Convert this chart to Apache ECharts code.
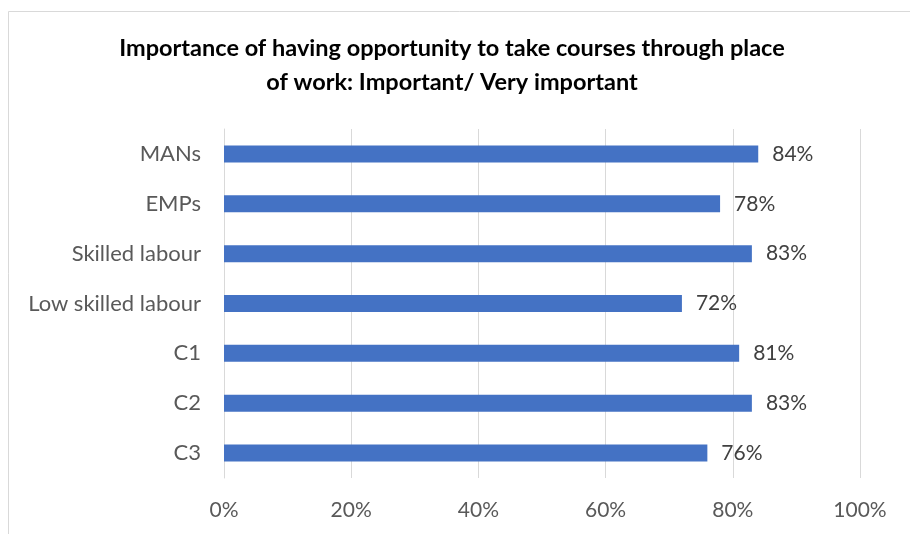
<!DOCTYPE html>
<html>
<head>
<meta charset="utf-8">
<script src="https://cdn.jsdelivr.net/npm/echarts@6/dist/echarts.min.js"></script>
<style>
  html, body { margin: 0; padding: 0; background: #fff; }
  #chart { width: 910px; height: 534px; }
</style>
</head>
<body>
<div id="chart"></div>
<script>
// Survey groups, listed top to bottom as displayed
const categories = ['MANs', 'EMPs', 'Skilled labour', 'Low skilled labour', 'C1', 'C2', 'C3'];
// Share answering "Important" or "Very important" (%)
const values = [84, 78, 83, 72, 81, 83, 76];
const tickValues = [0, 20, 40, 60, 80, 100];

const FONT = 'Lato, "Open Sans", sans-serif';

const chart = echarts.init(document.getElementById('chart'), null, { renderer: 'canvas' });

chart.setOption({
  animation: false,
  backgroundColor: '#ffffff',
  title: {
    text: 'Importance of having opportunity to take courses through place\nof work: Important/ Very important',
    left: 447,
    top: 26,
    padding: 5,
    textAlign: 'center',
    textStyle: {
      fontFamily: FONT,
      fontWeight: 'bold',
      fontSize: 23.5,
      lineHeight: 34,
      color: '#000000'
    }
  },
  graphic: [{
    type: 'rect',
    shape: { x: 8.5, y: 11.5, width: 1000, height: 1000 },
    style: { fill: 'none', stroke: '#d9d9d9', lineWidth: 1 },
    silent: true,
    z: -1
  }],
  grid: {
    left: 224,
    right: 50,
    top: 129,
    bottom: 56,
    containLabel: false
  },
  xAxis: {
    type: 'value',
    min: 0,
    max: 100,
    interval: 20,
    axisLine: { show: false },
    axisTick: { show: false },
    splitLine: { show: true, lineStyle: { color: '#d9d9d9', width: 1 } },
    axisLabel: {
      margin: 22,
      fontFamily: FONT,
      fontSize: 21,
      color: '#595959',
      formatter: v => tickValues.includes(v) ? v + '%' : ''
    }
  },
  yAxis: {
    type: 'category',
    data: categories,
    inverse: true,
    axisLine: { show: true, lineStyle: { color: '#d9d9d9', width: 1 } },
    axisTick: { show: false },
    axisLabel: {
      margin: 23,
      fontFamily: FONT,
      fontSize: 22,
      color: '#595959'
    }
  },
  series: [{
    type: 'bar',
    data: values,
    barWidth: 17,
    itemStyle: { color: '#4472c4' },
    label: {
      show: true,
      position: 'right',
      distance: 14,
      fontFamily: FONT,
      fontSize: 21,
      color: '#404040',
      formatter: p => p.value + '%'
    }
  }]
});
</script>
</body>
</html>
